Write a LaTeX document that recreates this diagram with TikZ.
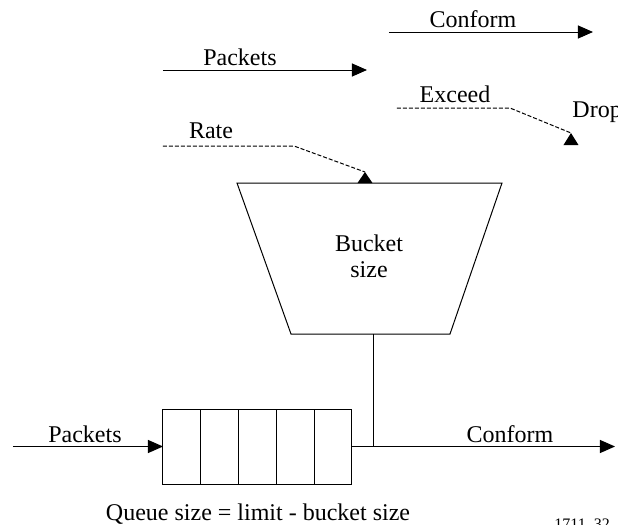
\documentclass[tikz,border=0pt]{standalone}
\usepackage{fontspec}
\setmainfont{Liberation Serif}
\usetikzlibrary{arrows.meta}
\begin{document}
\begin{tikzpicture}[x=0.5pt,y=-0.5pt,line width=0.5pt,
  lbl/.style={anchor=base,inner sep=0pt,font=\fontsize{12}{13.5}\selectfont},
  flow/.style={-{Triangle[length=7.5pt,width=6.5pt]}},
  ctl/.style={dash pattern=on 2pt off 1pt},
  cell/.style={draw,minimum width=18.9pt,minimum height=37.5pt,inner sep=0pt,outer sep=0pt}]
\useasboundingbox (0,0) rectangle (618,525);

% legend: conforming flow
\coordinate (confA) at (389,32);
\coordinate (confB) at (593,32);
\draw[flow] (confA) -- (confB);
\node[lbl] (confL) at (473,27) {Conform};

% legend: packet flow
\coordinate (pktA) at (163,70);
\coordinate (pktB) at (367,70);
\draw[flow] (pktA) -- (pktB);
\node[lbl] (pktL) at (240,65) {Packets};

% legend: exceeding traffic is dropped
\coordinate (excA) at (397,108);
\coordinate (excK) at (510,108);
\coordinate (excB) at (571,133);
\draw[ctl] (excA) -- (excK) -- (excB);
\fill (excB) -- ++(-7.5,12) -- ++(15,0) -- cycle;
\node[lbl] (excL) at (455,102) {Exceed};
\node[lbl,anchor=base west] (dropL) at (572,117) {Drop};

% rate feeding the bucket
\coordinate (rateA) at (163,146);
\coordinate (rateK) at (294,146);
\coordinate (rateB) at (365,172);
\draw[ctl] (rateA) -- (rateK) -- (rateB);
\fill (rateB) -- ++(-7.5,11) -- ++(15,0) -- cycle;
\node[lbl] (rateL) at (211,138) {Rate};

% token bucket
\coordinate (tl) at (237,183);
\coordinate (tr) at (502,183);
\coordinate (br) at (450,334);
\coordinate (bl) at (291,334);
\draw (tl) -- (tr) -- (br) -- (bl) -- cycle;
\node[lbl] (bucketL) at (369,251) {Bucket};
\node[lbl] (sizeL) at (369,277) {size};

% queue
\node[cell] (c1) at (181.9,446.5) {};
\node[cell] (c2) at (219.7,446.5) {};
\node[cell] (c3) at (257.5,446.5) {};
\node[cell] (c4) at (295.3,446.5) {};
\node[cell] (c5) at (333.1,446.5) {};

\coordinate (pin) at (13,446.5);
\coordinate (pout) at (615,446.5);
\coordinate (tb) at (374,334);
\coordinate (j) at (374,446.5);
\draw[flow] (pin) -- (c1.west);
\draw[flow] (c5.east) -- (pout);
\draw (tb) -- (j);

\node[lbl] (inL) at (85,442) {Packets};
\node[lbl] (outL) at (510,442) {Conform};
\node[lbl] (qL) at (258,520) {Queue size = limit - bucket size};
\node[anchor=base west,inner sep=0pt,font=\fontsize{8}{9}\selectfont] (figL) at (554,529) {1711\_32};
\end{tikzpicture}
\end{document}
